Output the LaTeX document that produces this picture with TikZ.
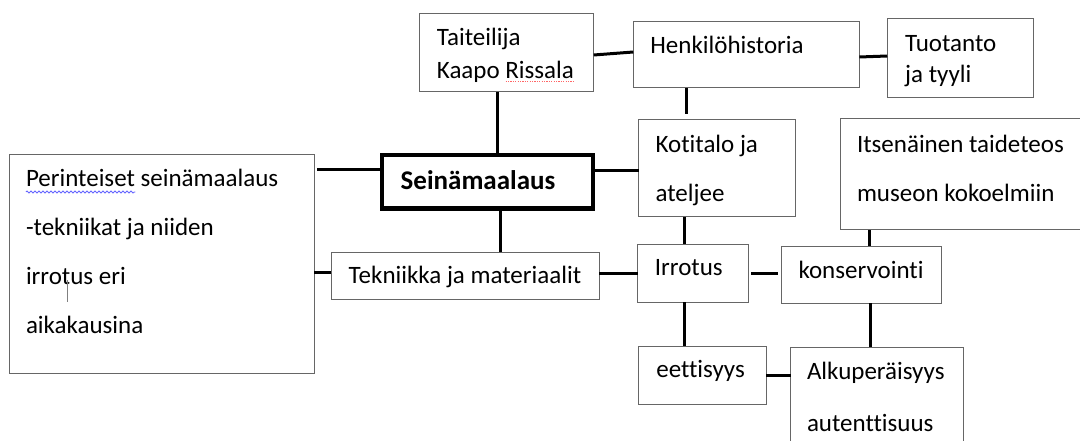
\documentclass[tikz,border=0pt]{standalone}
\usepackage{fontspec}
\setmainfont[Ligatures=NoCommon]{Carlito}
\usetikzlibrary{calc,decorations.pathmorphing}

\tikzset{
  box/.style={draw=black!60, line width=1pt, inner sep=0pt, outer sep=0pt},
  mainbox/.style={draw=black, line width=4.5pt, inner sep=0pt, outer sep=0pt},
  link/.style={line width=3pt},
  lbl/.style={anchor=base west, inner sep=0pt, align=left, font=\fontsize{25}{33}\selectfont},
}

\begin{document}
\begin{tikzpicture}[x=1pt, y=-1pt]
  \useasboundingbox (0,0) rectangle (1080,441);
  \clip (0,0) rectangle (1080,441);

  % boxes
  \node[box, minimum width=174.2pt, minimum height=78pt] (tait) at (506.6,53) {};
  \node[box, minimum width=226pt, minimum height=66pt] (henk) at (746.3,55) {};
  \node[box, minimum width=146.3pt, minimum height=79pt] (tuot) at (960.4,58.5) {};
  \node[box, minimum width=156.7pt, minimum height=97pt] (koti) at (716.9,168.5) {};
  \node[box, minimum width=259.7pt, minimum height=111pt] (itse) at (970.2,174.5) {};
  \node[mainbox, minimum width=210.7pt, minimum height=53.5pt] (sein) at (487.5,182) {};
  \node[box, minimum width=305.1pt, minimum height=218pt] (perin) at (161.9,264) {};
  \node[box, minimum width=267.9pt, minimum height=47pt] (tekn) at (465.3,275.5) {};
  \node[box, minimum width=110.9pt, minimum height=58pt] (irro) at (693,273) {};
  \node[box, minimum width=159.8pt, minimum height=57pt] (kons) at (861.3,274.5) {};
  \node[box, minimum width=127.8pt, minimum height=58pt] (eett) at (702.4,375) {};
  \node[box, minimum width=173pt, minimum height=133pt] (alku) at (877,413.5) {};

  % texts (base = last line)
  \node[lbl] (taitT) at (436.7,79) {Taiteilija\\Kaapo Rissala};
  \node[lbl] (henkT) at (650.2,54) {Henkilöhistoria};
  \node[lbl, font=\fontsize{25}{31}\selectfont] (tuotT) at (905,83) {Tuotanto\\ja tyyli};
  \node[lbl, font=\fontsize{25}{49}\selectfont] (kotiT) at (655.4,202) {Kotitalo ja\\ateljee};
  \node[lbl, font=\fontsize{25}{50}\selectfont] (itseT) at (856.8,202) {Itsenäinen taideteos\\museon kokoelmiin};
  \node[lbl, font=\fontsize{27}{33}\bfseries] (seinT) at (400.5,190) {Seinämaalaus};
  \node[lbl, font=\fontsize{25}{48.7}\selectfont] (perinT) at (25.8,333) {Perinteiset seinämaalaus\\-tekniikat ja niiden\\irrotus eri\\aikakausina};
  \node[lbl] (teknT) at (348.5,283) {Tekniikka ja materiaalit};
  \node[lbl] (irroT) at (654.7,276) {Irrotus};
  \node[lbl] (konsT) at (798.3,278) {konservointi};
  \node[lbl] (eettT) at (656.1,377) {eettisyys};
  \node[lbl, font=\fontsize{25}{52}\selectfont] (alkuT) at (806.8,431) {Alkuperäisyys\\autenttisuus};

  % spelling marks and cursor
  \draw[blue!60, line width=0.8pt, decorate, decoration={snake, amplitude=1pt, segment length=4pt}] (25.8,192) -- (135.4,192);
  \draw[red!60, line width=0.7pt, dash pattern=on 1.2pt off 1.2pt] (505.6,81.5) -- (573.4,81.5);
  \draw[black!50, line width=0.8pt] (67.8,280) -- (67.8,302);

  % connectors
  \coordinate (st) at ($(sein.north)+(10,0)$);
  \draw[link] (st) -- (st |- tait.south);
  \draw[link] ($(tait.east)+(0,2)$) -- ($(henk.west)+(0,-3)$);
  \draw[link] ($(henk.east)+(0,2)$) -- ($(tuot.west)+(0,-2.5)$);
  \coordinate (hk) at ($(koti.north)+(-30.5,-6)$);
  \draw[link] (hk |- henk.south) -- (hk);
  \coordinate (sk) at ($(koti.west)+(0,2.5)$);
  \draw[link] (sk) -- (sk -| sein.east);
  \coordinate (sp) at ($(sein.west)+(0,-12)$);
  \draw[link, shorten >=2.4pt] (sp) -- (sp -| perin.east);
  \coordinate (sb) at ($(sein.south)+(12.6,0)$);
  \draw[link] (sb) -- (sb |- tekn.north);
  \coordinate (pt) at ($(tekn.west)+(0,-3.5)$);
  \draw[link] (pt) -- (pt -| perin.east);
  \draw[link] (irro.west) -- (irro.west -| tekn.east);
  \coordinate (ki) at ($(irro.north)+(-9,0)$);
  \draw[link] (ki) -- (ki |- koti.south);
  \coordinate (ie) at ($(irro.south)+(-8.4,0)$);
  \draw[link] (ie) -- (ie |- eett.north);
  \draw[link, shorten <=2.7pt, shorten >=3.8pt] (irro.east) -- (irro.east -| kons.west);
  \coordinate (ik) at ($(kons.north)+(8.3,0)$);
  \draw[link] (ik) -- (ik |- itse.south);
  \coordinate (ka) at ($(kons.south)+(9,0)$);
  \draw[link] (ka) -- (ka |- alku.north);
  \draw[link] (eett.east) -- (eett.east -| alku.west);
\end{tikzpicture}
\end{document}
